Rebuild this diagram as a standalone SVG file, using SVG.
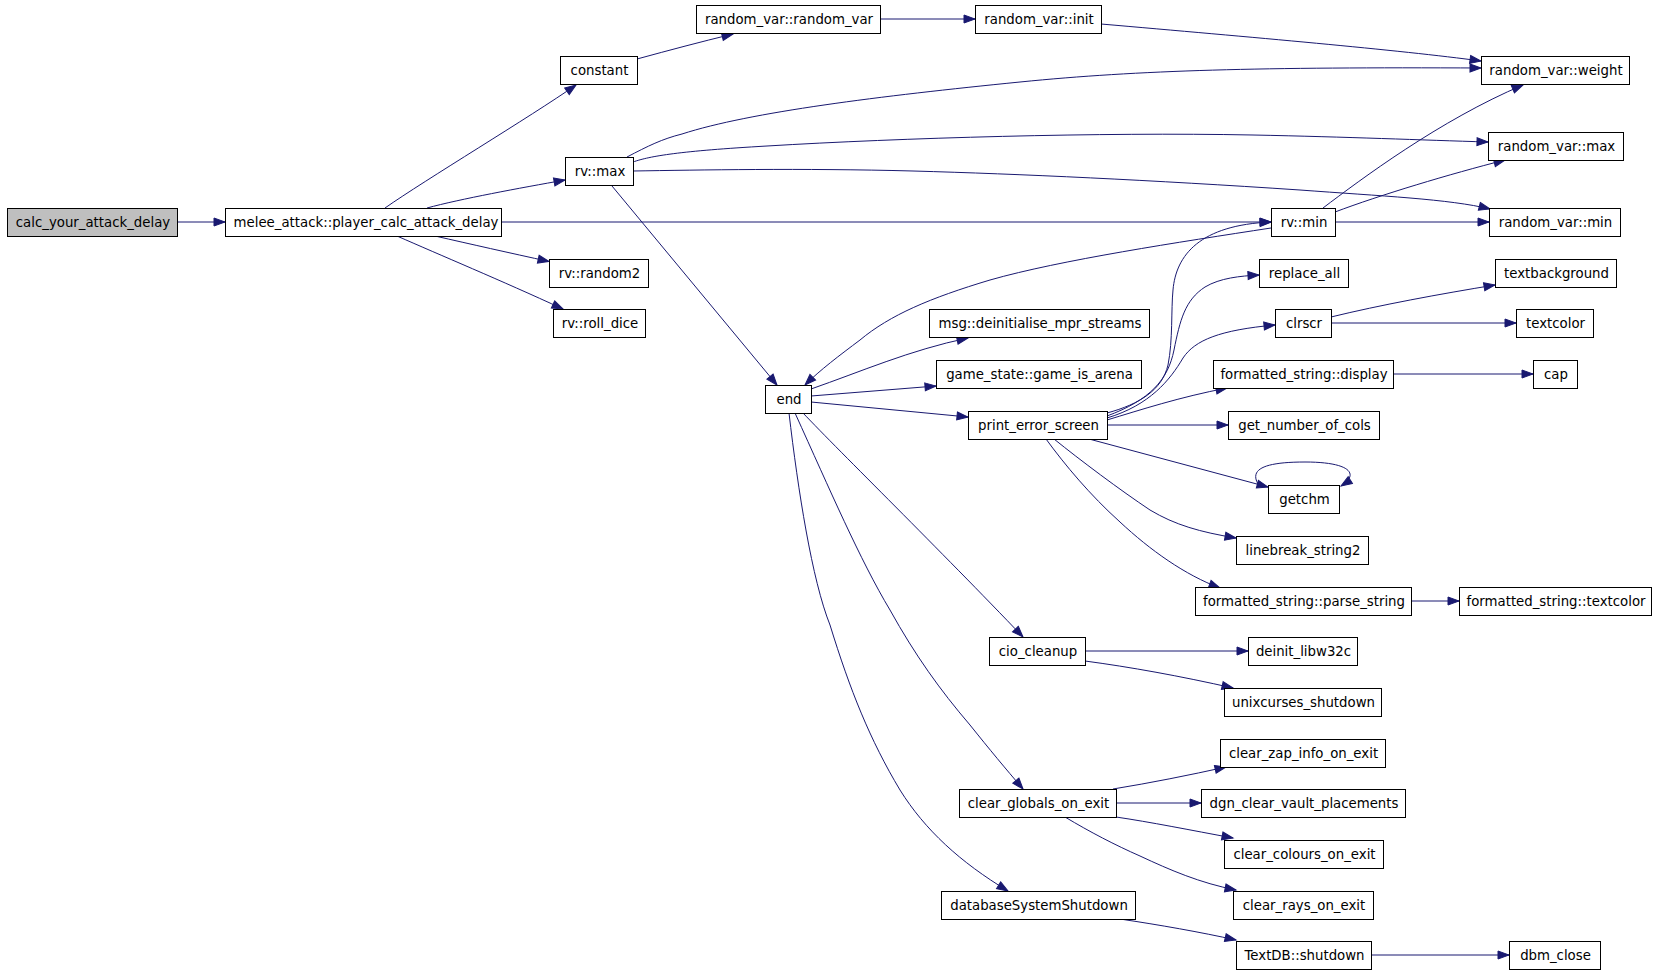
<svg xmlns="http://www.w3.org/2000/svg" width="1656" height="973" viewBox="0 0 1656 973">
<style>
.n rect{fill:#fff;stroke:#000;stroke-width:1}
.n.root rect{fill:#bfbfbf}
.n text{font-family:"DejaVu Sans","Liberation Sans",sans-serif;font-size:13.3px;text-anchor:middle;fill:#000}
.e path{fill:none;stroke:#191970;stroke-width:1;marker-end:url(#arr)}
</style>
<defs>
<marker id="arr" markerUnits="userSpaceOnUse" markerWidth="14" markerHeight="10" refX="11" refY="4" orient="auto" overflow="visible">
<path d="M0,0 L11,4 L0,8 z" fill="#191970" stroke="#191970" stroke-width="1"/>
</marker>
</defs>
<rect width="1656" height="973" fill="#fff"/>
<g id="edges" class="e">
<path d="M177,222 L225,222"/>
<path d="M385,208 C425,180 530,117 576,85"/>
<path d="M427,208 C460,199 520,188 565,180"/>
<path d="M502,222 L1271,222"/>
<path d="M435,236 C470,244 510,253 549,261.5"/>
<path d="M397,236 C440,255 500,280 563,309"/>
<path d="M637,59 C670,50 700,42 733,34"/>
<path d="M880,19 L975,19"/>
<path d="M1101,24 C1250,37 1400,50 1481,61"/>
<path d="M627,157 C648,146 662,139 682,134 C750,112 880,96 1020,82 C1140,70 1260,67 1481,68"/>
<path d="M633,162 C650,156 680,151 767,146 C900,138 1100,132 1253,135 C1350,137 1420,140 1488,142"/>
<path d="M633,171 C700,170 800,168 913,171 C1020,174 1150,180 1300,190 C1380,196 1450,199 1490,209"/>
<path d="M612,186 L777,385"/>
<path d="M1323,208 C1360,180 1440,120 1523,85"/>
<path d="M1335,212 C1380,195 1450,174 1505,160"/>
<path d="M1335,222 L1489,222"/>
<path d="M1271,228 C1180,242 1060,260 990,280 C930,298 890,315 860,340 C840,355 820,370 805,385"/>
<path d="M811,389 C860,372 910,350 968,338"/>
<path d="M811,396 L936,386"/>
<path d="M811,402 L968,417"/>
<path d="M803,413 C840,452 940,550 1023,637"/>
<path d="M795,413 C830,490 860,560 890,610 C915,655 940,690 970,725 C990,750 1005,768 1023,789"/>
<path d="M789,413 C798,490 812,580 830,625 C850,690 870,740 900,790 C925,830 960,862 1008,891"/>
<path d="M1107,413 C1140,404 1162,390 1168,365 C1173,340 1171,310 1173,290 C1176,255 1200,225 1271,222"/>
<path d="M1107,416 C1150,400 1168,380 1174,350 C1180,320 1185,300 1205,287 C1220,278 1240,276 1259,275"/>
<path d="M1107,418 C1150,405 1170,380 1183,358 C1195,340 1220,330 1275,325"/>
<path d="M1107,420 C1140,410 1180,397 1227,388"/>
<path d="M1107,425 L1228,425"/>
<path d="M1089,439 L1268,487"/>
<path d="M1054,439 C1080,460 1120,490 1150,510 C1175,525 1200,532 1236,538"/>
<path d="M1046,439 C1065,465 1090,495 1120,522 C1150,550 1185,575 1220,588"/>
<path d="M1258,484 C1250,470 1262,462 1305,462 C1350,462 1360,474 1341,486"/>
<path d="M1331,317 C1380,305 1440,294 1495,285"/>
<path d="M1331,323 L1516,323"/>
<path d="M1393,374 L1533,374"/>
<path d="M1411,601 L1459,601"/>
<path d="M1085,651 L1248,651"/>
<path d="M1085,661 C1130,667 1180,676 1233,688"/>
<path d="M1113,789 C1150,783 1190,775 1226,767"/>
<path d="M1116,803 L1201,803"/>
<path d="M1116,817 C1150,822 1190,830 1233,838"/>
<path d="M1065,817 C1090,832 1115,845 1140,856 C1170,870 1200,883 1236,890"/>
<path d="M1120,919 C1160,925 1200,932 1236,940"/>
<path d="M1371,955 L1509,955"/>
</g>
<g id="n1" class="n root"><rect x="7.5" y="208.5" width="170" height="28"/><text x="93" y="226.5">calc_your_attack_delay</text></g>
<g id="n2" class="n"><rect x="225.5" y="208.5" width="276" height="28"/><text x="366" y="226.5">melee_attack::player_calc_attack_delay</text></g>
<g id="n3" class="n"><rect x="560.5" y="56.5" width="77" height="28"/><text x="599.5" y="74.5">constant</text></g>
<g id="n4" class="n"><rect x="696.5" y="5.5" width="184" height="28"/><text x="789" y="23.5">random_var::random_var</text></g>
<g id="n5" class="n"><rect x="975.5" y="5.5" width="126" height="28"/><text x="1039" y="23.5">random_var::init</text></g>
<g id="n6" class="n"><rect x="1481.5" y="56.5" width="148" height="28"/><text x="1556" y="74.5">random_var::weight</text></g>
<g id="n7" class="n"><rect x="565.5" y="157.5" width="68" height="28"/><text x="600" y="175.5">rv::max</text></g>
<g id="n8" class="n"><rect x="1488.5" y="132.5" width="135" height="28"/><text x="1556.5" y="150.5">random_var::max</text></g>
<g id="n9" class="n"><rect x="1271.5" y="208.5" width="64" height="28"/><text x="1304" y="226.5">rv::min</text></g>
<g id="n10" class="n"><rect x="1489.5" y="208.5" width="131" height="28"/><text x="1555.5" y="226.5">random_var::min</text></g>
<g id="n11" class="n"><rect x="549.5" y="259.5" width="99" height="28"/><text x="599.5" y="277.5">rv::random2</text></g>
<g id="n12" class="n"><rect x="553.5" y="309.5" width="92" height="28"/><text x="600" y="327.5">rv::roll_dice</text></g>
<g id="n13" class="n"><rect x="1259.5" y="259.5" width="89" height="28"/><text x="1304.5" y="277.5">replace_all</text></g>
<g id="n14" class="n"><rect x="1495.5" y="259.5" width="121" height="28"/><text x="1556.5" y="277.5">textbackground</text></g>
<g id="n15" class="n"><rect x="929.5" y="309.5" width="220" height="28"/><text x="1040" y="327.5">msg::deinitialise_mpr_streams</text></g>
<g id="n16" class="n"><rect x="1275.5" y="309.5" width="56" height="28"/><text x="1304" y="327.5">clrscr</text></g>
<g id="n17" class="n"><rect x="1516.5" y="309.5" width="77" height="28"/><text x="1555.5" y="327.5">textcolor</text></g>
<g id="n18" class="n"><rect x="936.5" y="360.5" width="205" height="28"/><text x="1039.5" y="378.5">game_state::game_is_arena</text></g>
<g id="n19" class="n"><rect x="1213.5" y="360.5" width="180" height="28"/><text x="1304" y="378.5">formatted_string::display</text></g>
<g id="n20" class="n"><rect x="1533.5" y="360.5" width="44" height="28"/><text x="1556" y="378.5">cap</text></g>
<g id="n21" class="n"><rect x="765.5" y="385.5" width="46" height="28"/><text x="789" y="403.5">end</text></g>
<g id="n22" class="n"><rect x="968.5" y="411.5" width="139" height="28"/><text x="1038.5" y="429.5">print_error_screen</text></g>
<g id="n23" class="n"><rect x="1228.5" y="411.5" width="151" height="28"/><text x="1304.5" y="429.5">get_number_of_cols</text></g>
<g id="n24" class="n"><rect x="1268.5" y="485.5" width="71" height="28"/><text x="1304.5" y="503.5">getchm</text></g>
<g id="n25" class="n"><rect x="1236.5" y="536.5" width="132" height="28"/><text x="1303" y="554.5">linebreak_string2</text></g>
<g id="n26" class="n"><rect x="1195.5" y="587.5" width="216" height="28"/><text x="1304" y="605.5">formatted_string::parse_string</text></g>
<g id="n27" class="n"><rect x="1459.5" y="587.5" width="192" height="28"/><text x="1556" y="605.5">formatted_string::textcolor</text></g>
<g id="n28" class="n"><rect x="989.5" y="637.5" width="96" height="28"/><text x="1038" y="655.5">cio_cleanup</text></g>
<g id="n29" class="n"><rect x="1248.5" y="637.5" width="109" height="28"/><text x="1303.5" y="655.5">deinit_libw32c</text></g>
<g id="n30" class="n"><rect x="1224.5" y="688.5" width="157" height="28"/><text x="1303.5" y="706.5">unixcurses_shutdown</text></g>
<g id="n31" class="n"><rect x="1220.5" y="739.5" width="165" height="28"/><text x="1303.5" y="757.5">clear_zap_info_on_exit</text></g>
<g id="n32" class="n"><rect x="959.5" y="789.5" width="157" height="28"/><text x="1038.5" y="807.5">clear_globals_on_exit</text></g>
<g id="n33" class="n"><rect x="1201.5" y="789.5" width="204" height="28"/><text x="1304" y="807.5">dgn_clear_vault_placements</text></g>
<g id="n34" class="n"><rect x="1224.5" y="840.5" width="159" height="28"/><text x="1304.5" y="858.5">clear_colours_on_exit</text></g>
<g id="n35" class="n"><rect x="941.5" y="891.5" width="194" height="28"/><text x="1039" y="909.5">databaseSystemShutdown</text></g>
<g id="n36" class="n"><rect x="1233.5" y="891.5" width="140" height="28"/><text x="1304" y="909.5">clear_rays_on_exit</text></g>
<g id="n37" class="n"><rect x="1236.5" y="941.5" width="135" height="28"/><text x="1304.5" y="959.5">TextDB::shutdown</text></g>
<g id="n38" class="n"><rect x="1509.5" y="941.5" width="91" height="28"/><text x="1555.5" y="959.5">dbm_close</text></g>
</svg>
